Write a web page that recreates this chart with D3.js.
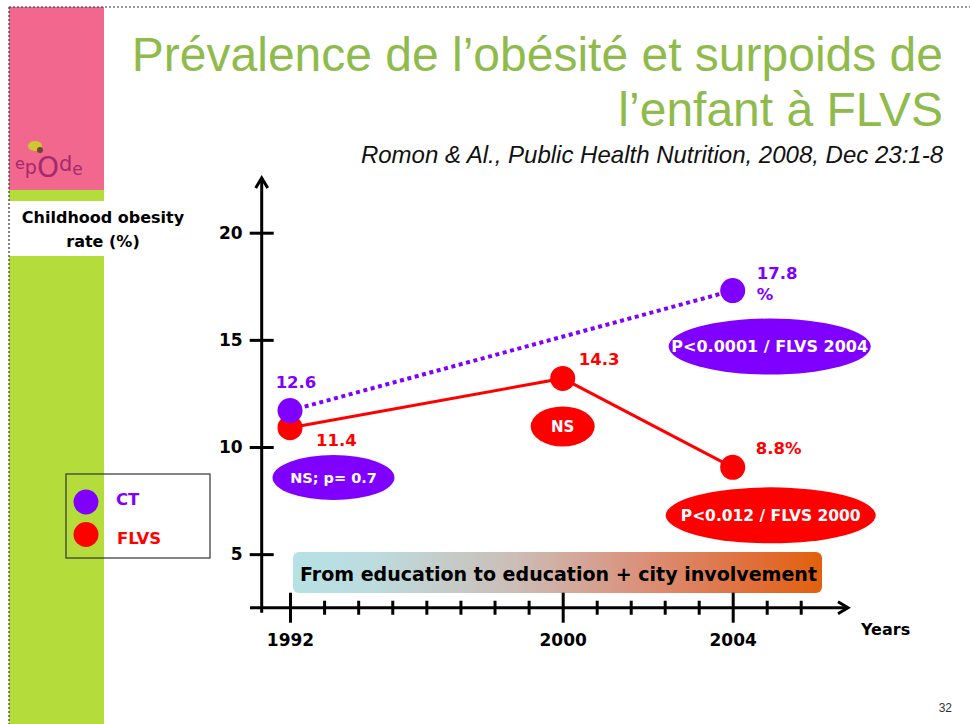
<!DOCTYPE html>
<html><head><meta charset="utf-8">
<script src="https://cdn.jsdelivr.net/npm/d3@7"></script>
<style>body{margin:0;background:#fff}svg{display:block}</style>
</head><body>
<svg id="chart" width="970" height="724"></svg>
<script>
// ---------- data ----------
const titleLines = ["Prévalence de l’obésité et surpoids de", "l’enfant à FLVS"];
const subtitle = "Romon & Al., Public Health Nutrition, 2008, Dec 23:1-8";
const yAxisLabel = ["Childhood obesity", "rate (%)"];
const xAxisLabel = "Years";
const bandText = "From education to education + city involvement";
const years = [1992, 2000, 2004];
const yTicks = [5, 10, 15, 20];
const seriesNames = ["CT", "FLVS"];
const ctYears = [1992, 2004];
const ctValues = [11.7, 17.3];
const ctLabels = ["12.6", "17.8|%"];
const flvsYears = [1992, 2000, 2004];
const flvsValues = [10.9, 13.2, 9.05];
const flvsLabels = ["11.4", "14.3", "8.8%"];
const ctTests = ["NS; p= 0.7", "P<0.0001 / FLVS 2004"];
const flvsTests = ["NS", "P<0.012 / FLVS 2000"];
const logoText = "epOde";
const pageNumber = "32";

// ---------- style ----------
const PURPLE = "#7f00ff", RED = "#ff0000", GREEN_T = "#8fbb4c";
const PINK = "#f2678e", LIME = "#b4dd3c";
const F = "'DejaVu Sans', Verdana, sans-serif";
const svg = d3.select("#chart");

// slide frame and side column
svg.append("rect").attr("x", 9).attr("y", 7).attr("width", 95).attr("height", 183).attr("fill", PINK);
svg.append("rect").attr("x", 9).attr("y", 190).attr("width", 95).attr("height", 11).attr("fill", LIME);
svg.append("rect").attr("x", 9).attr("y", 256).attr("width", 95).attr("height", 468).attr("fill", LIME);
svg.append("line").attr("x1", 9).attr("x2", 970).attr("y1", 7).attr("y2", 7)
  .attr("stroke", "#333").attr("stroke-width", 1.2).attr("stroke-dasharray", "2,2");
svg.append("line").attr("x1", 9).attr("x2", 9).attr("y1", 7).attr("y2", 724)
  .attr("stroke", "#333").attr("stroke-width", 1.2).attr("stroke-dasharray", "2,2");

// logo (single text, letters sized individually, no overlap)
svg.append("ellipse").attr("cx", 35).attr("cy", 146).attr("rx", 7).attr("ry", 5).attr("fill", "#c9d22a").attr("opacity", 0.9);
svg.append("circle").attr("cx", 40).attr("cy", 150).attr("r", 3).attr("fill", "#6b4a2a");
const logo = svg.append("text").attr("x", 15).attr("y", 174).attr("font-family", F).attr("fill", "#a52a6c");
const logoSizes = [16, 19, 28, 21, 17], logoShift = [-5, 0, 3, -3, 1];
logoText.split("").forEach((c, i) => logo.append("tspan").attr("font-size", logoSizes[i])
  .attr("dy", i === 0 ? logoShift[0] : logoShift[i] - logoShift[i - 1]).text(c));

// titles
const title = svg.append("text").attr("font-family", "'Liberation Sans', Arial, sans-serif")
  .attr("font-size", 48).attr("fill", GREEN_T).attr("text-anchor", "end");
titleLines.forEach((t, i) => title.append("tspan").attr("x", 943).attr("y", 71 + i * 55).text(t));
svg.append("text").attr("x", 943).attr("y", 163).attr("text-anchor", "end")
  .attr("font-family", "'Liberation Sans', Arial, sans-serif").attr("font-style", "italic")
  .attr("font-size", 24).attr("fill", "#111").text(subtitle);

// y axis label
const yl = svg.append("text").attr("font-family", F).attr("font-weight", "bold").attr("font-size", 16)
  .attr("text-anchor", "middle").attr("fill", "#000");
yAxisLabel.forEach((t, i) => yl.append("tspan").attr("x", 103).attr("y", 223 + i * 24).text(t));

// ---------- scales ----------
const x = d3.scaleLinear().domain(years).range([290, 562.7, 732.7]);
const y = d3.scaleLinear().domain([10, 20]).range([447, 232.7]);
const axisX0 = 261.7, axisY0 = y(2.5);

// gradient band
const defs = svg.append("defs");
const grad = defs.append("linearGradient").attr("id", "band");
[[0, "#b6e1e5"], [0.15, "#bcdcde"], [0.42, "#ccbdb6"], [0.65, "#da927c"], [0.85, "#e0713f"], [1, "#e2600c"]]
  .forEach(([o, c]) => grad.append("stop").attr("offset", o).attr("stop-color", c));
svg.append("rect").attr("x", 293).attr("y", 552).attr("width", 529).attr("height", 41).attr("rx", 6)
  .attr("fill", "url(#band)");
svg.append("text").attr("x", 300).attr("y", 581).attr("font-family", F).attr("font-weight", "bold")
  .attr("font-size", 19).attr("textLength", 517).attr("lengthAdjust", "spacingAndGlyphs")
  .attr("fill", "#000").text(bandText);

// axes
function styleAxis(g) {
  g.select(".domain").remove();
  g.selectAll("line").attr("stroke", "#000").attr("stroke-width", 3);
  g.selectAll("text").attr("font-family", F).attr("font-weight", "bold").attr("font-size", 17).attr("fill", "#000");
}
const minorYears = d3.range(1993, 2000).concat([2000.8, 2001.6, 2002.4, 2003.2, 2004.8, 2005.6]);
const gMinor = svg.append("g").attr("transform", `translate(0,${axisY0})`)
  .call(d3.axisBottom(x).tickValues(minorYears).tickSize(7).tickFormat(""));
styleAxis(gMinor);
gMinor.selectAll(".tick line").attr("y1", -7).attr("y2", 7);
const gX = svg.append("g").attr("transform", `translate(0,${axisY0})`)
  .call(d3.axisBottom(x).tickValues(years).tickSize(15).tickPadding(11).tickFormat(d3.format("d")));
styleAxis(gX);
gX.selectAll(".tick line").attr("y1", -15).attr("y2", 15);
const gY = svg.append("g").attr("transform", `translate(${axisX0},0)`)
  .call(d3.axisLeft(y).tickValues(yTicks).tickSize(12).tickPadding(7));
styleAxis(gY);
gY.selectAll(".tick line").attr("x1", -12).attr("x2", 12);

// axis lines with arrows
const ax = svg.append("g").attr("stroke", "#000").attr("stroke-width", 3).attr("fill", "none");
ax.append("line").attr("x1", axisX0).attr("x2", axisX0).attr("y1", axisY0 + 5).attr("y2", 178);
ax.append("path").attr("d", `M${axisX0 - 6},188 L${axisX0},178 L${axisX0 + 6},188`);
ax.append("line").attr("x1", 250).attr("x2", 848).attr("y1", axisY0).attr("y2", axisY0);
ax.append("path").attr("d", `M838,${axisY0 - 6} L848,${axisY0} L838,${axisY0 + 6}`);
svg.append("text").attr("x", 861).attr("y", 635).attr("font-family", F).attr("font-weight", "bold")
  .attr("font-size", 16).attr("fill", "#000").text(xAxisLabel);

// ---------- series ----------
const ctData = ctYears.map((yr, i) => ({ yr, v: ctValues[i], label: ctLabels[i] }));
const flvsData = flvsYears.map((yr, i) => ({ yr, v: flvsValues[i], label: flvsLabels[i] }));
const line = d3.line().x(d => x(d.yr)).y(d => y(d.v));
svg.append("path").datum(flvsData).attr("d", line).attr("fill", "none").attr("stroke", RED).attr("stroke-width", 3);
svg.append("path").datum(ctData).attr("d", line).attr("fill", "none").attr("stroke", PURPLE)
  .attr("stroke-width", 4).attr("stroke-dasharray", "4,3.6");
svg.selectAll(".dotF").data(flvsData).join("circle").attr("cx", d => x(d.yr)).attr("cy", d => y(d.v))
  .attr("r", 12.5).attr("fill", RED);
svg.selectAll(".dotC").data(ctData).join("circle").attr("cx", d => x(d.yr)).attr("cy", d => y(d.v))
  .attr("r", 12.5).attr("fill", PURPLE);

// value labels (offsets relative to each point)
const ctLabOff = [{ dx: 6, dy: -23, a: "middle" }, { dx: 24, dy: -12, a: "start" }];
const flLabOff = [{ dx: 26, dy: 18, a: "start" }, { dx: 16, dy: -13, a: "start" }, { dx: 23, dy: -13, a: "start" }];
function valueLabels(data, offs, color) {
  data.forEach((d, i) => {
    const o = offs[i];
    const t = svg.append("text").attr("font-family", F).attr("font-weight", "bold").attr("font-size", 16.5)
      .attr("fill", color).attr("text-anchor", o.a);
    d.label.split("|").forEach((s, k) => t.append("tspan").attr("x", x(d.yr) + o.dx)
      .attr("y", y(d.v) + o.dy + k * 21.5).text(s));
  });
}
valueLabels(ctData, ctLabOff, PURPLE);
valueLabels(flvsData, flLabOff, RED);

// significance ellipses
const ctTestOff = [{ dx: 43.5, dy: 67, rx: 61, ry: 22.5, fs: 14.5 }, { dx: 37, dy: 56, rx: 101, ry: 28, fs: 16 }];
const flTestOff = [null, { dx: 0, dy: 48, rx: 32, ry: 20, fs: 15 }, { dx: 38, dy: 48, rx: 105, ry: 28, fs: 15.5 }];
function tests(data, labels, offs, color) {
  let k = 0;
  data.forEach((d, i) => {
    const o = offs[i];
    if (!o) return;
    const cx = x(d.yr) + o.dx, cy = y(d.v) + o.dy;
    svg.append("ellipse").attr("cx", cx).attr("cy", cy).attr("rx", o.rx).attr("ry", o.ry).attr("fill", color);
    svg.append("text").attr("x", cx).attr("y", cy).attr("dy", "0.36em").attr("text-anchor", "middle")
      .attr("font-family", F).attr("font-weight", "bold").attr("font-size", o.fs).attr("fill", "#fff")
      .text(labels[k++]);
  });
}
tests(ctData, ctTests, ctTestOff, PURPLE);
tests(flvsData, flvsTests, flTestOff, RED);

// legend
svg.append("rect").attr("x", 66).attr("y", 474).attr("width", 144).attr("height", 84)
  .attr("fill", "none").attr("stroke", "#333").attr("stroke-width", 1.2);
const legColors = [PURPLE, RED];
seriesNames.forEach((n, i) => {
  svg.append("circle").attr("cx", 86).attr("cy", 502 + i * 32.5).attr("r", 12.5).attr("fill", legColors[i]);
  svg.append("text").attr("x", 116 + i).attr("y", 505 + i * 39).attr("font-family", F).attr("font-weight", "bold")
    .attr("font-size", 16.5).attr("fill", legColors[i]).text(n);
});

// page number
svg.append("text").attr("x", 952).attr("y", 712).attr("text-anchor", "end")
  .attr("font-family", "'Liberation Sans', Arial, sans-serif").attr("font-size", 12).attr("fill", "#333").text(pageNumber);
</script>
</body></html>
